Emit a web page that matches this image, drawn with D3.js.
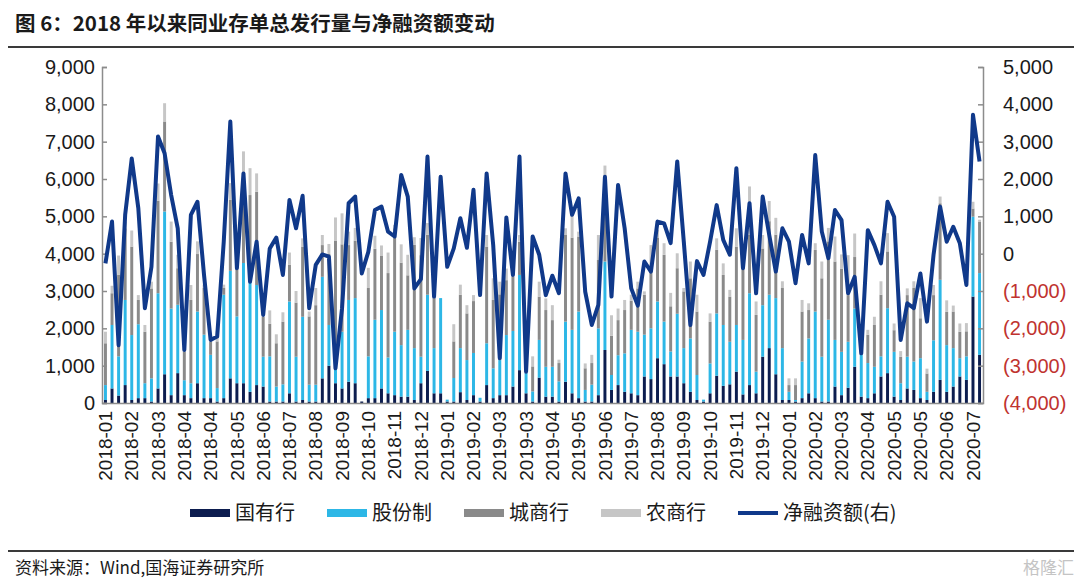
<!DOCTYPE html>
<html>
<head>
<meta charset="utf-8">
<script src="https://cdn.jsdelivr.net/npm/d3@7"></script>
<style>
  body { margin: 0; background: #fff; }
  svg text { font-family: "Liberation Sans", Arial, sans-serif; }
  svg .cjk { font-family: "Noto Sans CJK SC", "Liberation Sans", sans-serif; }
</style>
</head>
<body>
<svg id="chart" width="1080" height="580"></svg>
<script>
// weekly issuance, 亿元
const tickLabels = ["2018-01","2018-02","2018-03","2018-04","2018-04","2018-05","2018-06","2018-07",
  "2018-08","2018-09","2018-10","2018-11","2018-12","2019-01","2019-02","2019-03","2019-03",
  "2019-04","2019-05","2019-06","2019-07","2019-08","2019-09","2019-10","2019-11","2019-12",
  "2020-01","2020-02","2020-03","2020-04","2020-05","2020-05","2020-06","2020-07"];

const seriesNames = ["国有行", "股份制", "城商行", "农商行"];
const lineName = "净融资额(右)";

const stateOwned = [80,390,200,480,80,130,130,40,390,770,
  210,800,210,130,530,130,130,40,130,660,
  530,530,300,480,440,40,40,40,260,40,
  80,40,40,660,1000,530,390,570,530,40,
  130,130,390,260,210,170,170,80,530,860,
  260,260,40,40,290,80,210,40,480,130,
  210,210,440,880,260,40,680,170,170,40,
  570,260,130,40,40,210,1420,350,480,300,
  260,210,710,640,1200,1040,710,710,530,300,
  80,40,260,730,460,500,840,230,480,260,
  1240,1470,770,80,80,40,130,260,130,40,
  40,440,210,410,970,170,130,260,710,800,
  170,80,390,350,130,80,300,620,300,440,
  710,620,2850,1290];

const jointStock = [400,1700,1050,2280,1740,1980,400,620,2550,4360,
  2320,1830,400,400,1920,1700,1160,360,2770,2880,
  1790,3220,2950,2680,800,1210,400,460,2460,1200,
  2230,450,450,2720,1090,490,1520,2190,2280,0,
  1120,2100,2100,960,1700,1380,1790,1390,710,2040,
  1210,2550,50,630,1180,1070,1130,100,1120,800,
  940,1610,1490,2550,540,270,1010,800,800,540,
  1610,1700,2320,310,450,1790,2370,400,800,1030,
  1700,1700,1120,1360,1520,1140,670,1680,940,1430,
  670,50,800,1670,1630,1140,1250,1460,2460,580,
  1380,1430,2040,1390,220,40,980,1470,2320,1200,
  2190,1250,1160,1230,1560,1120,940,710,540,1740,
  1200,450,850,760,1070,220,1380,2680,1250,1030,
  490,630,2140,2190];

const cityBanks = [1120,850,2190,1920,2370,650,1380,2410,2480,2410,
  1790,980,760,2230,1540,1250,360,1250,180,1900,
  1650,2010,2320,2500,1070,870,1160,1680,980,1450,
  1880,1830,2130,850,1900,3320,2340,1470,1540,0,
  1830,1900,1460,2260,2770,2210,1460,2770,2720,1610,
  1340,0,0,980,1430,1250,1390,0,2590,1830,
  1760,1470,1460,890,0,670,1160,1520,1250,490,
  2320,2470,2010,580,580,1830,1790,1050,940,1160,
  780,1160,1070,1610,1700,1790,1210,1220,1520,1610,
  1700,0,1120,1700,1340,1210,2100,1880,1560,1520,
  1520,1970,1700,1610,180,400,1340,760,1650,2100,
  2100,2100,2230,1250,1380,200,760,1120,1650,1520,
  580,710,1650,1970,1070,490,1210,2050,890,980,
  710,670,220,1380];

const ruralBanks = [310,200,510,180,430,130,180,180,460,490,
  540,360,220,400,340,90,90,270,90,450,
  360,980,720,490,130,360,240,250,330,310,
  220,130,460,270,270,630,830,360,340,0,
  540,350,270,550,90,490,550,200,460,310,
  50,0,0,460,270,220,160,0,310,580,
  340,310,220,180,0,270,400,310,400,90,
  180,610,130,130,220,670,780,550,310,270,
  160,180,90,620,220,310,360,400,90,450,
  450,0,220,310,310,180,490,220,1300,360,
  360,540,450,180,180,180,310,180,180,450,
  360,670,380,1070,630,50,130,220,360,490,
  180,150,180,180,540,130,270,180,310,160,
  220,220,180,50];

const netFinancing = [-260,860,-2450,1040,2550,1220,-1460,-350,3140,2690,
  1570,680,-2580,1040,1390,-570,-2310,-2220,320,3540,
  -390,2150,-750,320,-1640,140,430,-570,1440,680,
  1550,-1460,-300,-20,-80,-3070,-1460,1350,1530,-530,
  50,1170,1260,590,460,2110,1530,-930,-680,2600,
  -1150,2060,-350,140,950,160,1710,-1110,2150,230,
  -2800,970,-570,2600,-3160,460,-30,-1110,-590,-1060,
  2150,1040,1480,-1020,-1910,-1370,2060,-1150,1840,680,
  -930,-1390,-210,-480,860,810,280,2470,320,-1910,
  -200,-570,320,1300,370,-30,2290,-390,1350,-1060,
  1530,500,-480,680,320,-790,500,-260,2640,590,
  -120,1170,900,-1060,-620,-2670,630,230,-260,1390,
  990,-2310,-1330,-1460,-530,-1820,-30,1260,320,720,
  280,-840,3720,2470];

const colors = ["#0c1d4f", "#2db7e6", "#8a8a8a", "#c6c6c6"];
const lineColor = "#10398a";
const axisColor = "#8c8c8c";
const negColor = "#c0332f";

// rows for the stack
const rows = stateOwned.map((v, i) => ({
  i: i, s0: v, s1: jointStock[i], s2: cityBanks[i], s3: ruralBanks[i]
}));
const keys = ["s0", "s1", "s2", "s3"];
const stacked = d3.stack().keys(keys)(rows);

const svg = d3.select("#chart");
const plotL = 102, plotR = 983, plotT = 67, plotB = 403;

const x = d3.scaleBand().domain(rows.map(d => d.i)).range([plotL, plotR]).paddingInner(0.55).paddingOuter(0.3);
const yL = d3.scaleLinear().domain([0, 9000]).range([plotB, plotT]);
const yR = d3.scaleLinear().domain([-4000, 5000]).range([plotB, plotT]);

// title
svg.append("text").attr("class", "cjk")
  .attr("x", 15).attr("y", 31)
  .attr("font-size", 20.5).attr("font-weight", "bold").attr("fill", "#1a1a1a")
  .text("图 6：2018 年以来同业存单总发行量与净融资额变动");
svg.append("line").attr("x1", 8).attr("x2", 1074).attr("y1", 47).attr("y2", 47)
  .attr("stroke", "#3a3a3a").attr("stroke-width", 2);

// bars
svg.append("g").selectAll("g")
  .data(stacked)
  .join("g")
  .attr("fill", (d, k) => colors[k])
  .selectAll("rect")
  .data(d => d)
  .join("rect")
  .attr("x", d => x(d.data.i))
  .attr("width", x.bandwidth())
  .attr("y", d => yL(d[1]))
  .attr("height", d => Math.max(0, yL(d[0]) - yL(d[1])));

// axes
const fmt = d3.format(",");
const gL = svg.append("g").attr("transform", `translate(${plotL},0)`)
  .call(d3.axisLeft(yL).tickValues(d3.range(0, 9001, 1000)).tickSize(-5).tickPadding(7).tickFormat(fmt));
const gR = svg.append("g").attr("transform", `translate(${plotR},0)`)
  .call(d3.axisRight(yR).tickValues(d3.range(-4000, 5001, 1000)).tickSize(-5).tickPadding(20)
    .tickFormat(d => d < 0 ? "(" + fmt(-d) + ")" : fmt(d)));
[gL, gR].forEach(g => {
  g.select(".domain").attr("stroke", axisColor).attr("stroke-width", 1.5);
  g.selectAll(".tick line").attr("stroke", axisColor).attr("stroke-width", 1.5);
  g.selectAll("text").attr("font-size", 20).attr("fill", "#1a1a1a")
    .attr("font-family", "Liberation Sans, Arial, sans-serif");
});
gR.selectAll(".tick text").attr("fill", d => d < 0 ? negColor : "#1a1a1a");

const gX = svg.append("g").attr("transform", `translate(0,${plotB})`)
  .call(d3.axisBottom(x).tickValues(d3.range(0, rows.length, 4)).tickSize(0)
    .tickFormat(i => tickLabels[i / 4]));
gX.select(".domain").attr("stroke", axisColor).attr("stroke-width", 1.5);
gX.selectAll("text")
  .attr("font-size", 19).attr("fill", "#1a1a1a")
  .attr("font-family", "Liberation Sans, Arial, sans-serif")
  .attr("text-anchor", "end")
  .attr("transform", "rotate(-90)")
  .attr("x", -8).attr("y", 0).attr("dy", "0.35em");

// net financing line (right axis)
const line = d3.line()
  .x((d, i) => x(i) + x.bandwidth() / 2)
  .y(d => yR(d));
svg.append("path")
  .datum(netFinancing)
  .attr("fill", "none")
  .attr("stroke", lineColor)
  .attr("stroke-width", 4)
  .attr("stroke-linejoin", "round")
  .attr("d", line);

// legend
const lg = svg.append("g");
let lx = 190;
const ly = 513;
seriesNames.concat([lineName]).forEach((name, k) => {
  if (k < 4) {
    lg.append("rect").attr("x", lx).attr("y", ly - 4).attr("width", 40).attr("height", 8).attr("fill", colors[k]);
  } else {
    lg.append("line").attr("x1", lx).attr("x2", lx + 40).attr("y1", ly).attr("y2", ly)
      .attr("stroke", lineColor).attr("stroke-width", 4);
  }
  const t = lg.append("text").attr("class", "cjk")
    .attr("x", lx + 45).attr("y", ly).attr("dy", "0.36em")
    .attr("font-size", 20).attr("fill", "#1a1a1a").text(name);
  lx += 45 + t.node().getComputedTextLength() + 32;
});

// footer
svg.append("line").attr("x1", 8).attr("x2", 1074).attr("y1", 551).attr("y2", 551)
  .attr("stroke", "#3a3a3a").attr("stroke-width", 2);
svg.append("text").attr("class", "cjk")
  .attr("x", 15).attr("y", 574).attr("font-size", 17).attr("fill", "#1a1a1a")
  .text("资料来源：Wind,国海证券研究所");
svg.append("text").attr("class", "cjk")
  .attr("x", 1074).attr("y", 574).attr("text-anchor", "end")
  .attr("font-size", 17).attr("fill", "#c4c4c4")
  .text("格隆汇");
</script>
</body>
</html>
